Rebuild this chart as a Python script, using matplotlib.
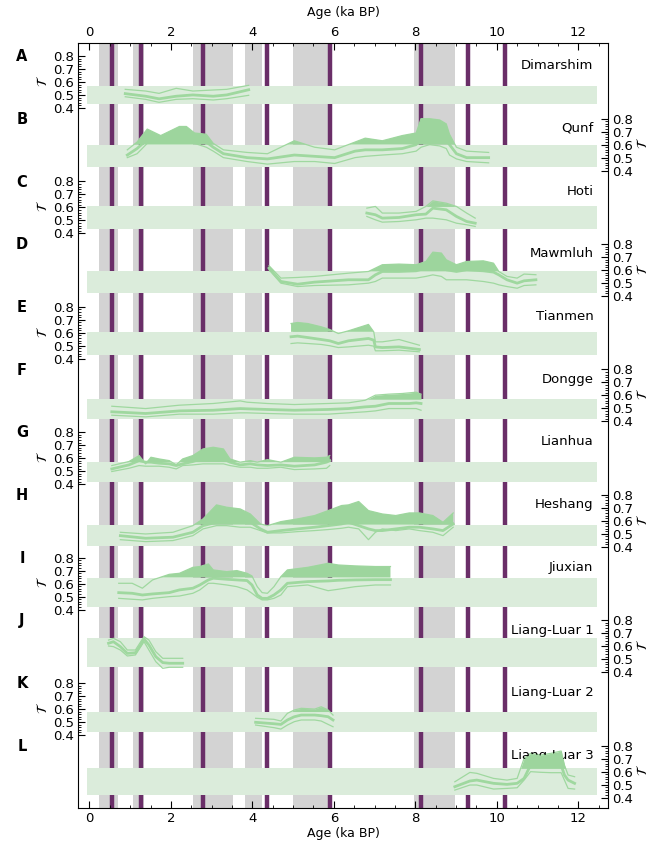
import numpy as np
import matplotlib
matplotlib.use('Agg')
import matplotlib.pyplot as plt
import matplotlib.transforms as mtransforms
from matplotlib.ticker import MultipleLocator, FixedLocator

# ---- event markers (ka BP) ----
grey_bands = [(0.24, 0.69), (1.07, 1.33), (2.54, 3.53), (3.82, 4.23), (5.0, 5.9), (7.97, 8.98)]
events = [0.56, 1.27, 2.8, 4.35, 5.9, 8.15, 9.3, 10.2]

# ---- records: age, centre, upper, lower, significance band ----
dim_x = [0.88, 1.38, 1.71, 2.13, 2.54, 3.04, 3.37, 3.91]
dim_c = [0.51, 0.49, 0.47, 0.49, 0.50, 0.49, 0.50, 0.54]
dim_u = [0.543, 0.530, 0.512, 0.551, 0.530, 0.538, 0.543, 0.574]
dim_l = [0.486, 0.466, 0.443, 0.466, 0.471, 0.461, 0.471, 0.497]
dim_band = (0.43, 0.57)

qun_x = [0.93, 1.17, 1.42, 1.75, 2.21, 2.38, 2.58, 2.87, 3.04, 3.29, 3.87, 4.37, 5.03, 5.53,
         6.02, 6.52, 6.77, 7.19, 7.68, 8.02, 8.14, 8.35, 8.60, 8.76, 8.84, 9.01, 9.26, 9.80]
qun_u = [0.56, 0.62, 0.72, 0.67, 0.74, 0.74, 0.69, 0.68, 0.61, 0.56, 0.54, 0.53, 0.63, 0.58,
         0.56, 0.62, 0.65, 0.63, 0.67, 0.69, 0.80, 0.80, 0.79, 0.76, 0.68, 0.58, 0.55, 0.54]
qun_c = [0.52, 0.57, 0.64, 0.63, 0.65, 0.65, 0.64, 0.62, 0.58, 0.53, 0.50, 0.49, 0.52, 0.51,
         0.50, 0.55, 0.56, 0.56, 0.57, 0.60, 0.66, 0.68, 0.66, 0.63, 0.60, 0.53, 0.50, 0.50]
qun_l = [0.50, 0.53, 0.61, 0.61, 0.61, 0.61, 0.61, 0.58, 0.55, 0.50, 0.47, 0.45, 0.47, 0.47,
         0.455, 0.50, 0.51, 0.52, 0.53, 0.55, 0.58, 0.60, 0.59, 0.57, 0.52, 0.49, 0.47, 0.46]
qun_band = (0.43, 0.60)

hot_x = [6.81, 7.02, 7.19, 7.60, 8.02, 8.26, 8.43, 8.76, 9.01, 9.26, 9.47]
hot_c = [0.556, 0.543, 0.517, 0.522, 0.543, 0.548, 0.594, 0.581, 0.530, 0.491, 0.478]
hot_u = [0.594, 0.607, 0.556, 0.556, 0.569, 0.607, 0.650, 0.632, 0.607, 0.556, 0.517]
hot_l = [0.530, 0.504, 0.486, 0.491, 0.504, 0.517, 0.517, 0.504, 0.478, 0.466, 0.453]
hot_band = (0.43, 0.607)

maw_x = [4.41, 4.70, 5.11, 5.53, 6.36, 6.85, 7.02, 7.19, 7.60, 8.02, 8.26, 8.43, 8.64, 8.76,
         9.01, 9.26, 9.67, 9.92, 10.05, 10.25, 10.50, 10.67, 10.96]
maw_u = [0.633, 0.538, 0.543, 0.551, 0.576, 0.589, 0.615, 0.641, 0.646, 0.641, 0.666, 0.738,
         0.731, 0.679, 0.641, 0.666, 0.671, 0.653, 0.589, 0.551, 0.538, 0.569, 0.564]
maw_c = [0.615, 0.512, 0.491, 0.507, 0.525, 0.525, 0.563, 0.589, 0.589, 0.594, 0.615, 0.641,
         0.628, 0.602, 0.589, 0.602, 0.594, 0.584, 0.563, 0.525, 0.499, 0.517, 0.525]
maw_l = [0.602, 0.499, 0.473, 0.481, 0.486, 0.499, 0.512, 0.538, 0.538, 0.538, 0.551, 0.563,
         0.551, 0.525, 0.525, 0.525, 0.512, 0.499, 0.486, 0.473, 0.460, 0.481, 0.486]
maw_band = (0.42, 0.59)

tia_x = [4.95, 5.11, 5.36, 5.69, 5.90, 6.11, 6.36, 6.85, 6.98, 7.02, 7.19, 7.60, 8.10]
tia_u = [0.671, 0.679, 0.671, 0.646, 0.625, 0.594, 0.615, 0.664, 0.607, 0.53, 0.53, 0.548, 0.504]
tia_c = [0.569, 0.574, 0.563, 0.548, 0.538, 0.517, 0.538, 0.556, 0.543, 0.491, 0.486, 0.491, 0.471]
tia_l = [0.517, 0.522, 0.517, 0.51, 0.5, 0.486, 0.491, 0.504, 0.497, 0.461, 0.461, 0.466, 0.453]
tia_band = (0.43, 0.607)

don_x = [0.55, 1.38, 2.21, 3.04, 3.70, 3.87, 4.37, 5.03, 5.86, 6.36, 6.77, 7.02, 7.35, 7.68,
         7.85, 8.02, 8.14]
don_u = [0.517, 0.499, 0.525, 0.538, 0.558, 0.548, 0.538, 0.530, 0.538, 0.543, 0.563, 0.602,
         0.610, 0.615, 0.620, 0.625, 0.610]
don_c = [0.474, 0.461, 0.481, 0.486, 0.499, 0.497, 0.492, 0.486, 0.492, 0.499, 0.512, 0.517,
         0.538, 0.538, 0.538, 0.543, 0.538]
don_l = [0.448, 0.435, 0.456, 0.456, 0.466, 0.466, 0.461, 0.456, 0.456, 0.466, 0.474, 0.481,
         0.499, 0.499, 0.499, 0.499, 0.486]
don_band = (0.42, 0.571)

lia_x = [0.55, 0.97, 1.22, 1.38, 1.51, 1.71, 1.96, 2.13, 2.29, 2.54, 2.79, 3.04, 3.29, 3.45,
         3.70, 3.95, 4.12, 4.37, 4.70, 5.03, 5.53, 5.82, 5.90]
lia_u = [0.543, 0.574, 0.620, 0.556, 0.607, 0.594, 0.581, 0.548, 0.594, 0.620, 0.671, 0.684,
         0.671, 0.594, 0.569, 0.581, 0.569, 0.589, 0.569, 0.607, 0.602, 0.607, 0.620]
lia_c = [0.517, 0.548, 0.581, 0.569, 0.569, 0.561, 0.556, 0.543, 0.556, 0.574, 0.599, 0.607,
         0.594, 0.569, 0.548, 0.556, 0.548, 0.543, 0.548, 0.538, 0.548, 0.569, 0.581]
lia_l = [0.497, 0.522, 0.543, 0.538, 0.538, 0.538, 0.530, 0.517, 0.543, 0.548, 0.556, 0.556,
         0.556, 0.543, 0.530, 0.530, 0.522, 0.522, 0.530, 0.512, 0.517, 0.522, 0.543]
lia_band = (0.42, 0.569)

hes_x = [0.76, 1.38, 2.05, 2.54, 2.79, 3.12, 3.37, 3.70, 3.95, 4.20, 4.37, 4.70, 5.11, 5.53,
         5.86, 6.19, 6.36, 6.61, 6.85, 7.02, 7.19, 7.52, 7.85, 8.10, 8.43, 8.68, 8.93]
hes_u = [0.512, 0.499, 0.512, 0.563, 0.615, 0.723, 0.705, 0.692, 0.653, 0.576, 0.563, 0.594,
         0.615, 0.641, 0.679, 0.718, 0.723, 0.749, 0.679, 0.666, 0.653, 0.641, 0.661, 0.661,
         0.641, 0.589, 0.661]
hes_c = [0.486, 0.466, 0.474, 0.512, 0.563, 0.589, 0.615, 0.602, 0.589, 0.538, 0.512, 0.525,
         0.538, 0.551, 0.563, 0.576, 0.589, 0.563, 0.538, 0.525, 0.525, 0.538, 0.551, 0.551,
         0.538, 0.525, 0.576]
hes_l = [0.455, 0.440, 0.448, 0.486, 0.538, 0.563, 0.563, 0.551, 0.551, 0.525, 0.507, 0.507,
         0.517, 0.525, 0.533, 0.543, 0.551, 0.538, 0.455, 0.512, 0.538, 0.525, 0.538, 0.525,
         0.512, 0.486, 0.551]
hes_band = (0.41, 0.57)

jiu_x = [0.72, 1.05, 1.30, 1.55, 1.96, 2.21, 2.54, 2.71, 2.92, 3.04, 3.37, 3.62, 3.87, 3.99,
         4.12, 4.24, 4.37, 4.53, 4.70, 4.86, 5.36, 5.86, 6.11, 6.52, 7.02, 7.39]
jiu_u = [0.602, 0.602, 0.564, 0.628, 0.671, 0.679, 0.725, 0.731, 0.751, 0.705, 0.692, 0.700,
         0.679, 0.659, 0.576, 0.530, 0.525, 0.576, 0.653, 0.705, 0.725, 0.756, 0.743, 0.736,
         0.731, 0.731]
jiu_c = [0.530, 0.525, 0.512, 0.520, 0.530, 0.551, 0.564, 0.589, 0.628, 0.641, 0.633, 0.628,
         0.623, 0.589, 0.512, 0.486, 0.486, 0.512, 0.551, 0.602, 0.615, 0.620, 0.625, 0.628,
         0.630, 0.630]
jiu_l = [0.486, 0.479, 0.474, 0.486, 0.499, 0.504, 0.525, 0.551, 0.602, 0.602, 0.589, 0.576,
         0.551, 0.525, 0.494, 0.474, 0.474, 0.486, 0.512, 0.576, 0.589, 0.545, 0.556, 0.576,
         0.589, 0.589]
jiu_band = (0.42, 0.646)

ll1_x = [0.47, 0.59, 0.76, 0.93, 1.13, 1.26, 1.34, 1.46, 1.63, 1.80, 1.96, 2.29]
ll1_c = [0.623, 0.635, 0.597, 0.545, 0.550, 0.610, 0.656, 0.610, 0.520, 0.474, 0.469, 0.469]
ll1_u = [0.648, 0.661, 0.635, 0.571, 0.571, 0.635, 0.674, 0.648, 0.558, 0.507, 0.507, 0.507]
ll1_l = [0.602, 0.597, 0.571, 0.525, 0.533, 0.597, 0.635, 0.571, 0.481, 0.430, 0.438, 0.438]
ll1_band = (0.44, 0.665)

ll2_x = [4.08, 4.53, 4.70, 4.86, 5.03, 5.20, 5.53, 5.69, 5.86, 5.98]
ll2_c = [0.497, 0.486, 0.481, 0.515, 0.540, 0.553, 0.553, 0.548, 0.540, 0.515]
ll2_u = [0.528, 0.520, 0.507, 0.566, 0.592, 0.605, 0.599, 0.617, 0.592, 0.553]
ll2_l = [0.476, 0.456, 0.445, 0.476, 0.502, 0.515, 0.515, 0.507, 0.481, 0.463]
ll2_band = (0.42, 0.58)

ll3_x = [8.97, 9.34, 9.51, 9.92, 10.25, 10.50, 10.67, 10.83, 11.08, 11.33, 11.58, 11.66, 11.75, 11.91]
ll3_c = [0.484, 0.528, 0.535, 0.510, 0.502, 0.510, 0.548, 0.651, 0.651, 0.651, 0.651, 0.574, 0.535, 0.510]
ll3_u = [0.522, 0.594, 0.587, 0.548, 0.535, 0.548, 0.702, 0.741, 0.728, 0.741, 0.759, 0.651, 0.574, 0.561]
ll3_l = [0.458, 0.497, 0.497, 0.466, 0.471, 0.476, 0.535, 0.600, 0.595, 0.592, 0.592, 0.535, 0.471, 0.466]
ll3_band = (0.42, 0.625)

letters = list('ABCDEFGHIJKL')
names = ['Dimarshim', 'Qunf', 'Hoti', 'Mawmluh', 'Tianmen', 'Dongge', 'Lianhua',
         'Heshang', 'Jiuxian', 'Liang-Luar 1', 'Liang-Luar 2', 'Liang-Luar 3']
records = [
    (dim_x, dim_c, dim_u, dim_l, dim_band),
    (qun_x, qun_c, qun_u, qun_l, qun_band),
    (hot_x, hot_c, hot_u, hot_l, hot_band),
    (maw_x, maw_c, maw_u, maw_l, maw_band),
    (tia_x, tia_c, tia_u, tia_l, tia_band),
    (don_x, don_c, don_u, don_l, don_band),
    (lia_x, lia_c, lia_u, lia_l, lia_band),
    (hes_x, hes_c, hes_u, hes_l, hes_band),
    (jiu_x, jiu_c, jiu_u, jiu_l, jiu_band),
    (ll1_x, ll1_c, ll1_u, ll1_l, ll1_band),
    (ll2_x, ll2_c, ll2_u, ll2_l, ll2_band),
    (ll3_x, ll3_c, ll3_u, ll3_l, ll3_band),
]

GREY = '#d3d3d3'
PURPLE = '#6a2e68'
BAND = '#dbecdb'
FILL = '#9dd59d'
LINE = '#9fd89f'

W, H = 661, 848
fig = plt.figure(figsize=(W / 100, H / 100), dpi=100)
left, right = 78 / W, 608 / W
top_px, bot_px = 43, 808
step_px = 62.7
h_px = (bot_px - top_px) - 11 * step_px
XLIM = (-0.28, 12.73)

# background frame with the event bands and lines
bg = fig.add_axes([left, 1 - bot_px / H, right - left, (bot_px - top_px) / H])
bg.set_xlim(*XLIM)
bg.set_ylim(0, 1)
bg.set_yticks([])
for a, b in grey_bands:
    bg.axvspan(a, b, color=GREY, lw=0, zorder=0)
for e in events:
    bg.axvline(e, color=PURPLE, lw=3.2, zorder=1)
bg.xaxis.set_major_locator(MultipleLocator(2))
bg.xaxis.set_minor_locator(MultipleLocator(0.5))
bg.tick_params(axis='x', which='both', direction='in', top=True, labeltop=True,
               labelsize=9.5, pad=3)
bg.tick_params(axis='x', which='major', length=5)
bg.tick_params(axis='x', which='minor', length=2.5)
bg.set_xlabel('Age (ka BP)', fontsize=9, labelpad=1)
bg.text(0.5, 1 + 24 / (bot_px - top_px), 'Age (ka BP)', transform=bg.transAxes,
        ha='center', va='bottom', fontsize=9)

for i, (x, c, u, l, band) in enumerate(records):
    x = np.array(x); c = np.array(c); u = np.array(u); l = np.array(l)
    top = top_px + i * step_px
    ax = fig.add_axes([left, 1 - (top + h_px) / H, right - left, h_px / H], facecolor='none')
    ax.set_xlim(*XLIM)
    ax.set_ylim(0.32, 0.90)
    for s in ax.spines.values():
        s.set_visible(False)
    ax.set_xticks([])
    ax.fill_between([-0.05, 12.47], band[0], band[1], color=BAND, lw=0, zorder=1)
    ax.plot(x, u, color=LINE, lw=0.9, zorder=2)
    ax.plot(x, l, color=LINE, lw=0.9, zorder=2)
    ax.plot(x, c, color=LINE, lw=2, zorder=2)
    ax.fill_between(x, band[1], u, where=u > band[1], interpolate=True,
                    color=FILL, lw=0, zorder=3)

    ax.yaxis.set_major_locator(FixedLocator([0.4, 0.5, 0.6, 0.7, 0.8]))
    ax.yaxis.set_minor_locator(FixedLocator(np.arange(0.42, 0.80, 0.02)))
    on_left = i % 2 == 0
    ax.tick_params(axis='y', which='both', direction='in', left=on_left, right=not on_left,
                   labelleft=on_left, labelright=not on_left, labelsize=9.5, pad=3)
    ax.tick_params(axis='y', which='major', length=5)
    ax.tick_params(axis='y', which='minor', length=2.5)
    if not on_left:
        ax.yaxis.set_label_position('right')
    ax.set_ylabel(r'$\mathcal{T}$', fontsize=10, labelpad=2)

    ax.text(12.37, 0.725, names[i], ha='right', va='center', fontsize=9.5, zorder=2.5)
    trans = mtransforms.blended_transform_factory(fig.transFigure, ax.transData)
    ax.text(22 / W, 0.795, letters[i], transform=trans, ha='center', va='center',
            fontsize=10.5, fontweight='bold')

fig.savefig('out.png', dpi=100)
